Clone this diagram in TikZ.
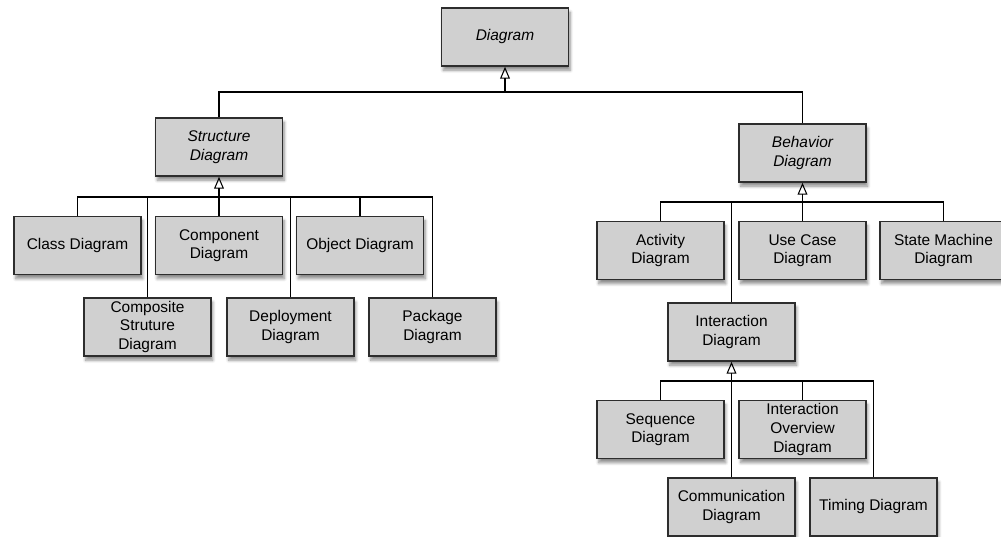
\documentclass[tikz,border=0pt]{standalone}
\usepackage{fontspec}
\setmainfont{Liberation Sans}
\usepackage{tikz}
\usetikzlibrary{arrows.meta,positioning,calc,shadows.blur}

\definecolor{boxgray}{RGB}{208,208,208}
\definecolor{edgegray}{RGB}{45,45,45}

\begin{document}
\begin{tikzpicture}[
  x=0.025cm,y=-0.025cm,
  box/.style={draw=edgegray,line width=1.1pt,fill=boxgray,minimum width=3.175cm,minimum height=1.45cm,
              inner sep=0pt,align=center,font=\fontsize{11}{13.2}\selectfont,
              blur shadow={shadow xshift=1.2pt,shadow yshift=-3pt,shadow blur steps=6,shadow opacity=45}},
  abstract/.style={box,font=\fontsize{11}{13.2}\selectfont\itshape},
  gen/.style={-{Triangle[open,length=8.5pt,width=7pt]},line width=0.75pt,draw=black},
  link/.style={line width=0.75pt,draw=black}
]
  \useasboundingbox (0,0) rectangle (1001,537);

  % Nodes: root on top, Structure left, Behavior right
  \node[abstract] (diagram)   at (505,37)    {Diagram};
  \node[abstract] (structure) at (219,147)   {Structure\\Diagram};
  \node[abstract] (behavior)  at (802.5,153) {Behavior\\Diagram};

  % Structure children, two staggered rows
  \node[box] (class)      at (77.5,245.5)  {Class Diagram};
  \node[box] (component)  at (219,245.5)   {Component\\Diagram};
  \node[box] (object)     at (360,245.5)   {Object Diagram};
  \node[box] (composite)  at (147.5,327)   {Composite\\Struture\\Diagram};
  \node[box] (deployment) at (290.5,327)   {Deployment\\Diagram};
  \node[box] (package)    at (432.5,327)   {Package\\Diagram};

  % Behavior children
  \node[box] (activity)     at (660.5,250.5) {Activity\\Diagram};
  \node[box] (usecase)      at (802.5,250.5) {Use Case\\Diagram};
  \node[box] (statemachine) at (943.5,250.5) {State Machine\\Diagram};
  \node[box] (interaction)  at (731.5,332)   {Interaction\\Diagram};

  % Interaction children
  \node[box] (sequence)      at (660.5,429.5) {Sequence\\Diagram};
  \node[box] (overview)      at (802.5,429.5) {Interaction\\Overview\\Diagram};
  \node[box] (communication) at (731.5,507)   {Communication\\Diagram};
  \node[box] (timing)        at (873.5,507)   {Timing Diagram};

  % Bus points under each parent
  \coordinate (dbus) at (505,92);
  \coordinate (sbus) at (219,197);
  \coordinate (bbus) at (802.5,202);
  \coordinate (ibus) at (731.5,381);

  % Diagram generalisation
  \draw[gen] (dbus) -- (diagram.south);
  \draw[link] (structure.north) |- (dbus);
  \draw[link] (behavior.north) |- (dbus);

  % Structure generalisation
  \draw[gen] (sbus) -- (structure.south);
  \foreach \c in {class,component,object,composite,deployment,package}
    \draw[link] (\c.north) |- (sbus);

  % Behavior generalisation
  \draw[gen] (bbus) -- (behavior.south);
  \foreach \c in {activity,usecase,statemachine,interaction}
    \draw[link] (\c.north) |- (bbus);

  % Interaction generalisation
  \draw[gen] (ibus) -- (interaction.south);
  \foreach \c in {sequence,overview,communication,timing}
    \draw[link] (\c.north) |- (ibus);
\end{tikzpicture}
\end{document}
